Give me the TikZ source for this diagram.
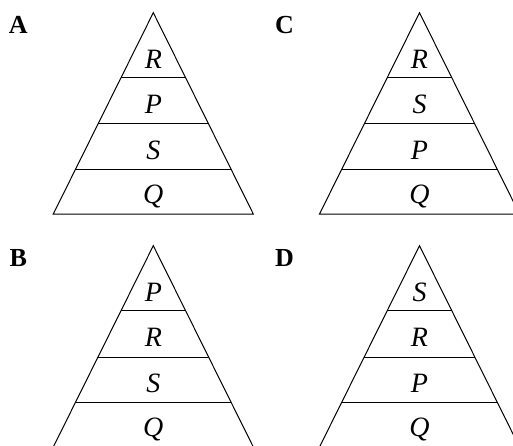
\documentclass[tikz,border=0pt]{standalone}
\usepackage{fontspec}
\setmainfont{Liberation Serif}
\begin{document}
\begin{tikzpicture}[
    x=1pt, y=-1pt,
    layer/.style={line width=1pt, line join=miter},
    part/.style={font=\fontsize{28}{28}\selectfont\itshape, anchor=base, inner sep=0pt},
    tag/.style={font=\fontsize{26}{26}\selectfont\bfseries, anchor=base, inner sep=0pt}
]
\useasboundingbox (0,0) rectangle (513,446);
\clip (0,0) rectangle (513,446);
\foreach \px/\py/\name/\ra/\rb/\rc in {
    153.3/12.7/A/R/P/S,
    419.5/12.7/C/R/S/P,
    153.3/245.7/B/P/R/S,
    419.5/245.7/D/S/R/P}{
    % outline of the pyramid
    \coordinate (top-\name) at (\px,\py);
    \coordinate (bl-\name) at (\px-100,\py+201.3);
    \coordinate (br-\name) at (\px+100,\py+201.3);
    \draw[layer] (bl-\name) -- (top-\name) -- (br-\name) -- cycle;
    % levels
    \draw[layer] (\px-32.3,\py+65) -- (\px+32.3,\py+65);
    \draw[layer] (\px-55.3,\py+111.3) -- (\px+55.3,\py+111.3);
    \draw[layer] (\px-78,\py+157) -- (\px+78,\py+157);
    \node[part] (l1-\name) at (\px,\py+56) {\ra};
    \node[part] (l2-\name) at (\px,\py+100.5) {\rb};
    \node[part] (l3-\name) at (\px,\py+146.5) {\rc};
    \node[part] (l4-\name) at (\px,\py+190.5) {Q};
    \node[tag] (tag-\name) at (\px-135,\py+21) {\name};
}
\end{tikzpicture}
\end{document}
